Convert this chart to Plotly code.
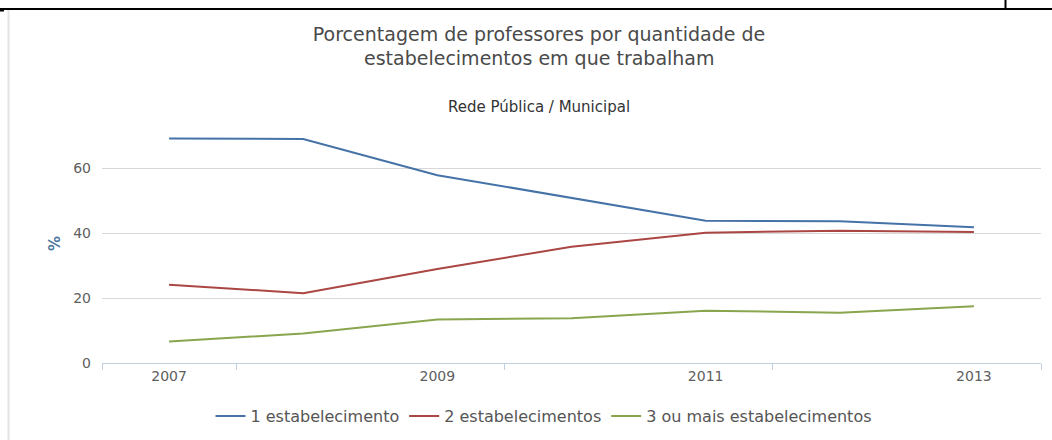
import plotly.graph_objects as go

years = [2007, 2008, 2009, 2010, 2011, 2012, 2013]
um_estab = [69.1, 68.9, 57.8, 50.9, 43.8, 43.6, 41.8]
dois_estab = [24.1, 21.5, 28.9, 35.8, 40.1, 40.7, 40.3]
tres_estab = [6.6, 9.1, 13.4, 13.8, 16.1, 15.5, 17.5]
series_names = ["1 estabelecimento", "2 estabelecimentos", "3 ou mais estabelecimentos"]
series_colors = ["#4572A7", "#AA4643", "#89A54E"]
x_label_years = [2007, 2009, 2011, 2013]
x_tick_marks = [2006.5, 2007.5, 2009.5, 2011.5, 2013.5]
y_ticks = [0, 20, 40, 60]

title_line1 = "Porcentagem de professores por quantidade de"
title_line2 = "estabelecimentos em que trabalham"
subtitle_text = "Rede Pública / Municipal"

W, H = 1052, 440
L, R, T, B = 102, 11, 129, 77
PW, PH = W - L - R, H - T - B


def px(x):
    return (x - L) / PW


def py(y):
    return 1 - (y - T) / PH


FONT = "DejaVu Sans"
TITLE_FONT = dict(family=FONT, size=19, color="#4a4a4a")

fig = go.Figure()
for name, vals, col in zip(series_names, [um_estab, dois_estab, tres_estab], series_colors):
    fig.add_trace(go.Scatter(x=years, y=vals, mode="lines", name=name,
                             line=dict(color=col, width=2)))

fig.update_layout(
    width=W, height=H,
    margin=dict(l=L, r=R, t=T, b=B, autoexpand=False),
    paper_bgcolor="white", plot_bgcolor="white",
    font=dict(family=FONT, color="#606060"),
    title=dict(text=title_line1, x=539 / W, xanchor="center",
               y=1 - 34.5 / H, yanchor="middle", yref="container",
               font=TITLE_FONT),
    showlegend=True,
    legend=dict(orientation="h", x=px(544), xanchor="center",
                y=py(416), yanchor="middle",
                font=dict(family=FONT, size=16, color="#555555"),
                itemwidth=30, traceorder="normal"),
    xaxis=dict(range=[2006.5, 2013.5], tickmode="array", tickvals=x_label_years,
               ticktext=[str(v) for v in x_label_years], ticks="",
               showgrid=False, zeroline=False, showline=True, linecolor="#C0D0E0",
               linewidth=1, tickfont=dict(family=FONT, size=14, color="#606060"),
               minor=dict(tickmode="array", tickvals=x_tick_marks, ticks="outside",
                          ticklen=6, tickcolor="#C0D0E0", tickwidth=1, showgrid=False)),
    yaxis=dict(range=[0, 72], tickmode="array", tickvals=y_ticks, showgrid=True,
               gridcolor="#D8D8D8", gridwidth=1, zeroline=False, showline=False,
               ticks="", ticklabelstandoff=10,
               tickfont=dict(family=FONT, size=14, color="#606060")),
    annotations=[
        dict(text=title_line2, xref="paper", yref="paper", x=px(539), y=py(57.5),
             xanchor="center", yanchor="middle", showarrow=False, font=TITLE_FONT),
        dict(text=subtitle_text, xref="paper", yref="paper", x=px(539), y=py(107),
             xanchor="center", yanchor="middle", showarrow=False,
             font=dict(family=FONT, size=15, color="#333333")),
        dict(text="<b>%</b>", xref="paper", yref="paper", x=px(55), y=py(244),
             xanchor="center", yanchor="middle", showarrow=False, textangle=-90,
             font=dict(family=FONT, size=15, color="#4d759e")),
    ],
    shapes=[
        dict(type="line", xref="paper", yref="paper", x0=px(0), x1=px(W), y0=py(9), y1=py(9),
             line=dict(color="black", width=2)),
        dict(type="line", xref="paper", yref="paper", x0=px(1005.5), x1=px(1005.5), y0=py(0), y1=py(9),
             line=dict(color="black", width=2)),
        dict(type="line", xref="paper", yref="paper", x0=px(0), x1=px(4), y0=py(10.5), y1=py(10.5),
             line=dict(color="black", width=2)),
        dict(type="line", xref="paper", yref="paper", x0=px(8.5), x1=px(8.5), y0=py(10), y1=py(H),
             line=dict(color="#E4E4E4", width=2)),
    ],
)

fig.write_html("out.html", config={"displayModeBar": False},
               post_script="document.body.style.margin='0';document.body.style.padding='0';document.body.style.overflow='hidden';")
